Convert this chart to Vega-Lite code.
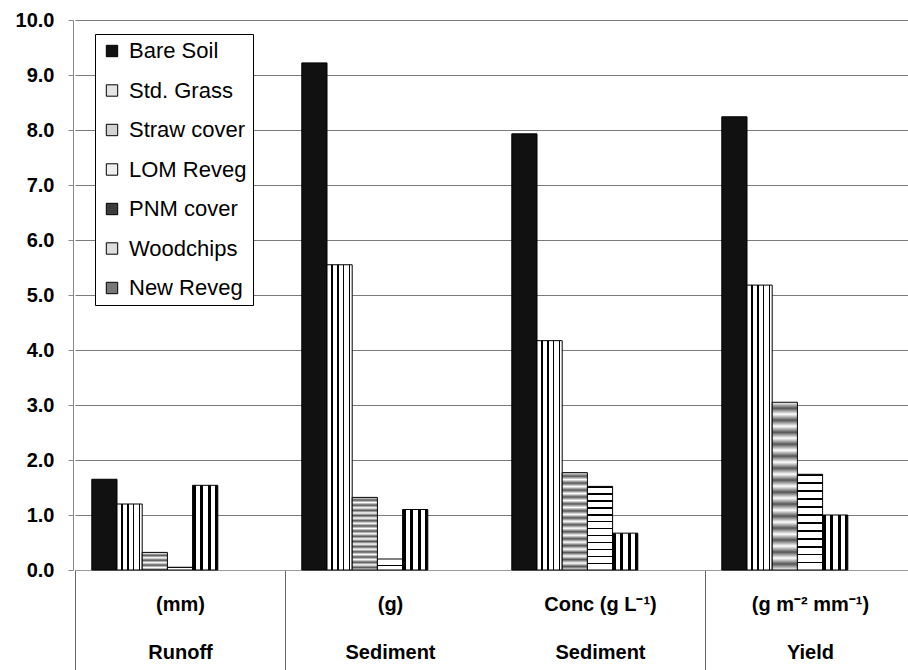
{
  "$schema": "https://vega.github.io/schema/vega-lite/v6.json",
  "width": 835,
  "height": 550,
  "autosize": {"type": "none"},
  "padding": {"left": 73, "top": 20, "right": 0, "bottom": 100},
  "background": "white",
  "config": {
    "view": {"stroke": null},
    "font": "Liberation Sans"
  },
  "data": {
    "values": [
      {"group": "(mm)|Runoff", "treatment": "Bare Soil", "value": 1.65},
      {"group": "(mm)|Runoff", "treatment": "Std. Grass", "value": 1.2},
      {"group": "(mm)|Runoff", "treatment": "Straw cover", "value": 0.32},
      {"group": "(mm)|Runoff", "treatment": "LOM Reveg", "value": 0.05},
      {"group": "(mm)|Runoff", "treatment": "PNM cover", "value": 1.54},
      {"group": "(g)|Sediment", "treatment": "Bare Soil", "value": 9.22},
      {"group": "(g)|Sediment", "treatment": "Std. Grass", "value": 5.55},
      {"group": "(g)|Sediment", "treatment": "Straw cover", "value": 1.32},
      {"group": "(g)|Sediment", "treatment": "LOM Reveg", "value": 0.2},
      {"group": "(g)|Sediment", "treatment": "PNM cover", "value": 1.1},
      {"group": "Conc (g L⁻¹)|Sediment", "treatment": "Bare Soil", "value": 7.93},
      {"group": "Conc (g L⁻¹)|Sediment", "treatment": "Std. Grass", "value": 4.17},
      {"group": "Conc (g L⁻¹)|Sediment", "treatment": "Straw cover", "value": 1.77},
      {"group": "Conc (g L⁻¹)|Sediment", "treatment": "LOM Reveg", "value": 1.52},
      {"group": "Conc (g L⁻¹)|Sediment", "treatment": "PNM cover", "value": 0.67},
      {"group": "(g m⁻² mm⁻¹)|Yield", "treatment": "Bare Soil", "value": 8.24},
      {"group": "(g m⁻² mm⁻¹)|Yield", "treatment": "Std. Grass", "value": 5.18},
      {"group": "(g m⁻² mm⁻¹)|Yield", "treatment": "Straw cover", "value": 3.05},
      {"group": "(g m⁻² mm⁻¹)|Yield", "treatment": "LOM Reveg", "value": 1.74},
      {"group": "(g m⁻² mm⁻¹)|Yield", "treatment": "PNM cover", "value": 1.0}
    ]
  },
  "mark": {"type": "bar", "stroke": "#000000", "strokeWidth": 1},
  "encoding": {
    "x": {
      "field": "group",
      "type": "nominal",
      "sort": null,
      "scale": {"range": [2, 842], "paddingInner": 0, "paddingOuter": 0},
      "axis": {
        "title": null,
        "labelExpr": "split(datum.label, '|')",
        "labelFont": "Liberation Sans",
        "labelFontWeight": "bold",
        "labelFontSize": 20,
        "labelLineHeight": 48,
        "labelBaseline": "top",
        "labelPadding": -76,
        "labelAngle": 0,
        "labelColor": "#000000",
        "labelLimit": 0,
        "tickBand": "extent",
        "tickSize": 100,
        "tickWidth": 1,
        "tickColor": {
          "condition": {
            "test": "datum.value == '(mm)|Runoff' || datum.value == 'Conc (g L⁻¹)|Sediment' || datum.extra",
            "value": "#666666"
          },
          "value": "transparent"
        },
        "domainColor": "#9a9a9a",
        "grid": false
      }
    },
    "xOffset": {
      "field": "treatment",
      "type": "nominal",
      "scale": {
        "domain": ["Bare Soil", "Std. Grass", "Straw cover", "LOM Reveg", "PNM cover", "Woodchips", "New Reveg"],
        "paddingInner": 0,
        "paddingOuter": 0.667
      }
    },
    "y": {
      "field": "value",
      "type": "quantitative",
      "scale": {"domain": [0, 10], "nice": false, "zero": true},
      "axis": {
        "title": null,
        "values": [0, 1, 2, 3, 4, 5, 6, 7, 8, 9, 10],
        "format": ".1f",
        "labelFont": "Liberation Sans",
        "labelFontWeight": "bold",
        "labelFontSize": 20,
        "labelColor": "#000000",
        "labelPadding": 14,
        "tickSize": 5,
        "tickColor": "#888888",
        "domainColor": "#888888",
        "grid": true,
        "gridColor": "#7a7a7a",
        "gridWidth": 1
      }
    },
    "fill": {
      "field": "treatment",
      "type": "nominal",
      "condition": [
        {"test": "datum.treatment == 'Std. Grass'", "value": {"gradient": "linear", "x1": 0, "y1": 0, "x2": 1, "y2": 0, "stops": [
            {"offset": 0, "color": "#ffffff"}, {"offset": 0.17, "color": "#ffffff"},
            {"offset": 0.17, "color": "#000000"}, {"offset": 0.23, "color": "#000000"},
            {"offset": 0.23, "color": "#ffffff"}, {"offset": 0.4, "color": "#ffffff"},
            {"offset": 0.4, "color": "#000000"}, {"offset": 0.46, "color": "#000000"},
            {"offset": 0.46, "color": "#ffffff"}, {"offset": 0.63, "color": "#ffffff"},
            {"offset": 0.63, "color": "#000000"}, {"offset": 0.69, "color": "#000000"},
            {"offset": 0.69, "color": "#ffffff"}, {"offset": 0.86, "color": "#ffffff"},
            {"offset": 0.86, "color": "#000000"}, {"offset": 0.92, "color": "#000000"},
            {"offset": 0.92, "color": "#ffffff"}, {"offset": 1, "color": "#ffffff"}
          ]}},
        {"test": "datum.treatment == 'Straw cover'", "value": {"gradient": "linear", "x1": 0, "y1": 0, "x2": 0, "y2": 1, "stops": [
            {"offset": 0, "color": "#ffffff"}, {"offset": 0.036, "color": "#555555"}, {"offset": 0.071, "color": "#ffffff"},
            {"offset": 0.107, "color": "#555555"}, {"offset": 0.143, "color": "#ffffff"},
            {"offset": 0.179, "color": "#555555"}, {"offset": 0.214, "color": "#ffffff"},
            {"offset": 0.25, "color": "#555555"}, {"offset": 0.286, "color": "#ffffff"},
            {"offset": 0.321, "color": "#555555"}, {"offset": 0.357, "color": "#ffffff"},
            {"offset": 0.393, "color": "#555555"}, {"offset": 0.429, "color": "#ffffff"},
            {"offset": 0.464, "color": "#555555"}, {"offset": 0.5, "color": "#ffffff"},
            {"offset": 0.536, "color": "#555555"}, {"offset": 0.571, "color": "#ffffff"},
            {"offset": 0.607, "color": "#555555"}, {"offset": 0.643, "color": "#ffffff"},
            {"offset": 0.679, "color": "#555555"}, {"offset": 0.714, "color": "#ffffff"},
            {"offset": 0.75, "color": "#555555"}, {"offset": 0.786, "color": "#ffffff"},
            {"offset": 0.821, "color": "#555555"}, {"offset": 0.857, "color": "#ffffff"},
            {"offset": 0.893, "color": "#555555"}, {"offset": 0.929, "color": "#ffffff"},
            {"offset": 0.964, "color": "#555555"}, {"offset": 1, "color": "#ffffff"}
          ]}},
        {"test": "datum.treatment == 'LOM Reveg'", "value": {"gradient": "linear", "x1": 0, "y1": 0, "x2": 0, "y2": 1, "stops": [
            {"offset": 0, "color": "#000000"}, {"offset": 0.015, "color": "#000000"}, {"offset": 0.015, "color": "#ffffff"}, {"offset": 0.0833, "color": "#ffffff"},
            {"offset": 0.0833, "color": "#000000"}, {"offset": 0.0983, "color": "#000000"}, {"offset": 0.0983, "color": "#ffffff"}, {"offset": 0.1667, "color": "#ffffff"},
            {"offset": 0.1667, "color": "#000000"}, {"offset": 0.1817, "color": "#000000"}, {"offset": 0.1817, "color": "#ffffff"}, {"offset": 0.25, "color": "#ffffff"},
            {"offset": 0.25, "color": "#000000"}, {"offset": 0.265, "color": "#000000"}, {"offset": 0.265, "color": "#ffffff"}, {"offset": 0.3333, "color": "#ffffff"},
            {"offset": 0.3333, "color": "#000000"}, {"offset": 0.3483, "color": "#000000"}, {"offset": 0.3483, "color": "#ffffff"}, {"offset": 0.4167, "color": "#ffffff"},
            {"offset": 0.4167, "color": "#000000"}, {"offset": 0.4317, "color": "#000000"}, {"offset": 0.4317, "color": "#ffffff"}, {"offset": 0.5, "color": "#ffffff"},
            {"offset": 0.5, "color": "#000000"}, {"offset": 0.515, "color": "#000000"}, {"offset": 0.515, "color": "#ffffff"}, {"offset": 0.5833, "color": "#ffffff"},
            {"offset": 0.5833, "color": "#000000"}, {"offset": 0.5983, "color": "#000000"}, {"offset": 0.5983, "color": "#ffffff"}, {"offset": 0.6667, "color": "#ffffff"},
            {"offset": 0.6667, "color": "#000000"}, {"offset": 0.6817, "color": "#000000"}, {"offset": 0.6817, "color": "#ffffff"}, {"offset": 0.75, "color": "#ffffff"},
            {"offset": 0.75, "color": "#000000"}, {"offset": 0.765, "color": "#000000"}, {"offset": 0.765, "color": "#ffffff"}, {"offset": 0.8333, "color": "#ffffff"},
            {"offset": 0.8333, "color": "#000000"}, {"offset": 0.8483, "color": "#000000"}, {"offset": 0.8483, "color": "#ffffff"}, {"offset": 0.9167, "color": "#ffffff"},
            {"offset": 0.9167, "color": "#000000"}, {"offset": 0.9317, "color": "#000000"}, {"offset": 0.9317, "color": "#ffffff"}, {"offset": 1, "color": "#ffffff"}
          ]}},
        {"test": "datum.treatment == 'PNM cover'", "value": {"gradient": "linear", "x1": 0, "y1": 0, "x2": 1, "y2": 0, "stops": [
            {"offset": 0, "color": "#000000"}, {"offset": 0.12, "color": "#000000"},
            {"offset": 0.12, "color": "#ffffff"}, {"offset": 0.3, "color": "#ffffff"},
            {"offset": 0.3, "color": "#000000"}, {"offset": 0.42, "color": "#000000"},
            {"offset": 0.42, "color": "#ffffff"}, {"offset": 0.6, "color": "#ffffff"},
            {"offset": 0.6, "color": "#000000"}, {"offset": 0.72, "color": "#000000"},
            {"offset": 0.72, "color": "#ffffff"}, {"offset": 0.9, "color": "#ffffff"},
            {"offset": 0.9, "color": "#000000"}, {"offset": 1, "color": "#000000"}
          ]}}
      ],
      "scale": {
        "domain": ["Bare Soil", "Std. Grass", "Straw cover", "LOM Reveg", "PNM cover", "Woodchips", "New Reveg"],
        "range": ["#111111", "#e4e4e4", "#d2d2d2", "#efefef", "#3c3c3c", "#dedede", "#777777"]
      },
      "legend": {
        "title": null,
        "orient": "none",
        "legendX": 22,
        "legendY": 14,
        "padding": 6,
        "rowPadding": 17.5,
        "fillColor": "#ffffff",
        "strokeColor": "#000000",
        "symbolType": "square",
        "symbolSize": 130,
        "symbolStrokeColor": "#000000",
        "symbolStrokeWidth": 1,
        "labelFont": "Liberation Sans",
        "labelFontSize": 22,
        "labelColor": "#000000",
        "labelOffset": 6,
        "labelLimit": 0
      }
    }
  }
}
